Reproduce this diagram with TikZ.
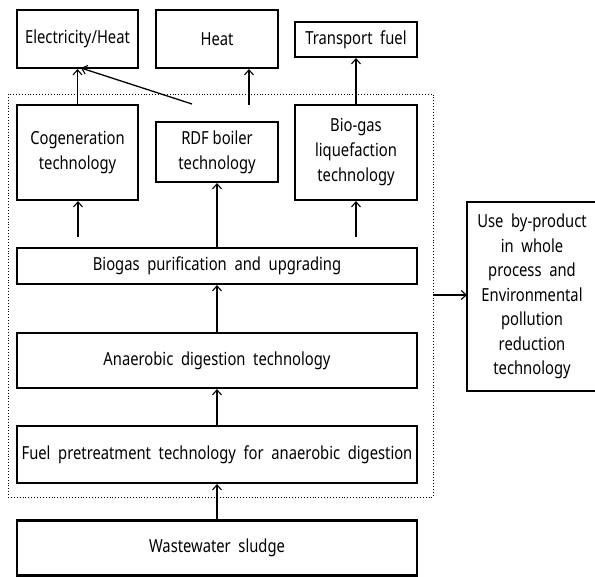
\documentclass[tikz,border=0pt]{standalone}
\usepackage{fontspec}
\setmainfont[FakeStretch=0.82]{Noto Sans}
\usetikzlibrary{arrows.meta}
\begin{document}
\begin{tikzpicture}[x=1pt,y=-1pt,
  box/.style={draw,line width=2.2pt,rectangle,inner sep=0pt,align=center,font=\fontsize{18}{25}\selectfont},
  arr/.style={line width=1.3pt,-{Straight Barb[length=5pt,width=9pt,line width=1.1pt]}},
  lin/.style={line width=1.3pt}]
\useasboundingbox (0,0) rectangle (595,577);
\begin{scope}
\clip (0,0) rectangle (595,577);
\node[box,minimum width=121pt,minimum height=58pt] (elec) at (77.5,39) {Electricity/Heat};
\node[box,minimum width=122pt,minimum height=58pt] (heat) at (217,39) {Heat};
\node[box,minimum width=122pt,minimum height=35pt] (trans) at (356,39.5) {Transport\ \ fuel};
\node[box,minimum width=121pt,minimum height=95pt] (cog) at (77.5,152.5) {Cogeneration\\technology};
\node[box,minimum width=122pt,minimum height=60pt] (rdf) at (217,152) {RDF boiler\\technology};
\node[box,minimum width=122pt,minimum height=95pt] (bio) at (356,152.5) {Bio-gas\\liquefaction\\technology};
\node[box,minimum width=400pt,minimum height=36pt] (purif) at (217,266) {Biogas\ \ purification\ \ and\ \ upgrading};
\node[box,minimum width=400pt,minimum height=55pt] (anaer) at (217,360.5) {Anaerobic\ \ digestion\ \ technology};
\node[box,minimum width=400pt,minimum height=57pt] (fuel) at (217,454.5) {Fuel\ \ pretreatment\ \ technology\ \ for\ \ anaerobic\ \ digestion};
\node[box,minimum width=400pt,minimum height=55pt] (waste) at (217,548) {Wastewater\ \ sludge};
\draw[line width=2.2pt] (467,202) rectangle (610,391);
\node[align=center,font=\fontsize{18}{24.5}\selectfont,inner sep=0pt] (use) at (532,296.5) {Use\ \ by-product\\in\ \ whole\\process\ \ and\\Environmental\\pollution\\reduction\\technology};
\coordinate (usew) at (467,295);
\draw[dotted,line width=0.9pt] (8,94) rectangle (433,497);
\coordinate (dotr) at (433,295);
\coordinate (hs) at (249,105);
\coordinate (ds) at (192,104);
\coordinate (de) at (81,68);
\coordinate (cs) at (78,237);
\coordinate (bs) at (356,237);
\draw[arr] (cog.north) -- (cog.north |- elec.south);
\draw[arr] (hs) -- (hs |- heat.south);
\draw[lin,-{Straight Barb[length=5pt,width=9pt,line width=1.1pt]}] (ds) -- (de);
\draw[arr] (bio.north) -- (trans.south);
\draw[arr] (cs) -- (cs |- cog.south);
\draw[arr] (bs) -- (bs |- bio.south);
\draw[arr] (purif.north) -- (rdf.south);
\draw[arr] (anaer.north) -- (purif.south);
\draw[arr] (fuel.north) -- (anaer.south);
\draw[arr] (waste.north) -- (fuel.south);
\draw[arr] (dotr) -- (usew);
\end{scope}
\end{tikzpicture}
\end{document}
